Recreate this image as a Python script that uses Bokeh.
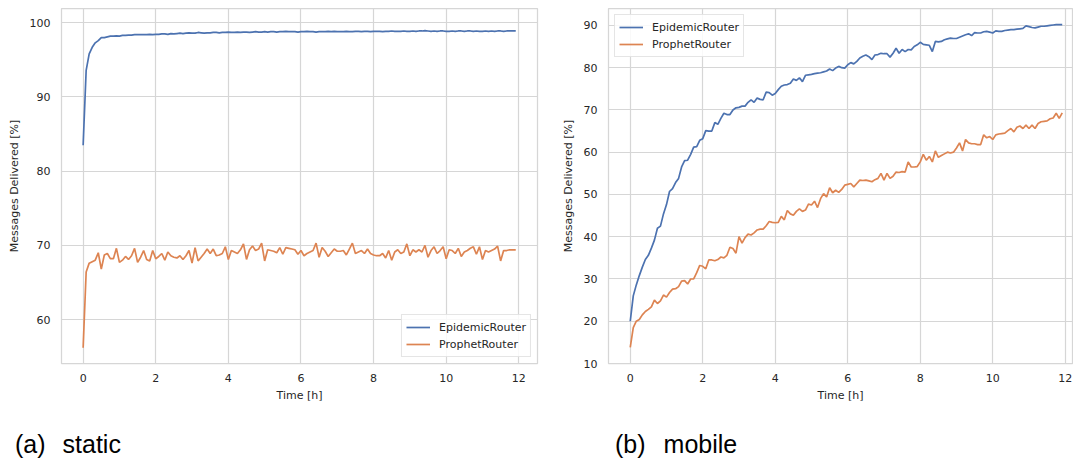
from bokeh.plotting import figure
from bokeh.layouts import row, column
from bokeh.models import FixedTicker, Range1d, Legend, LegendItem, Div
from bokeh.embed import file_html
from bokeh.resources import INLINE

# time axis: samples every 5 minutes, in hours
time_h = [i / 12 for i in range(144)]

static_epidemic = [
    83.5, 93.6, 95.8, 96.7, 97.3, 97.6, 98.0, 98.0, 98.1, 98.2, 98.2, 98.25, 98.2, 98.3, 98.3, 98.35,
    98.35, 98.4, 98.4, 98.4, 98.4, 98.4, 98.45, 98.4, 98.45, 98.45, 98.5, 98.5, 98.45, 98.55, 98.5, 98.55,
    98.6, 98.55, 98.6, 98.65, 98.6, 98.6, 98.7, 98.65, 98.6, 98.65, 98.65, 98.7, 98.7, 98.65, 98.7, 98.7,
    98.75, 98.7, 98.7, 98.75, 98.7, 98.75, 98.75, 98.7, 98.75, 98.8, 98.75, 98.75, 98.8, 98.75, 98.8, 98.8,
    98.75, 98.8, 98.8, 98.85, 98.8, 98.8, 98.8, 98.75, 98.8, 98.8, 98.85, 98.8, 98.8, 98.75, 98.8, 98.8,
    98.8, 98.85, 98.8, 98.85, 98.8, 98.8, 98.8, 98.85, 98.8, 98.8, 98.85, 98.85, 98.8, 98.85, 98.85, 98.8,
    98.85, 98.85, 98.85, 98.8, 98.85, 98.85, 98.9, 98.85, 98.85, 98.85, 98.9, 98.85, 98.85, 98.9, 98.85, 98.9,
    98.9, 98.95, 98.9, 98.85, 98.9, 98.85, 98.9, 98.9, 98.85, 98.85, 98.9, 98.85, 98.9, 98.9, 98.85, 98.9,
    98.9, 98.85, 98.9, 98.85, 98.85, 98.9, 98.85, 98.9, 98.85, 98.9, 98.9, 98.85, 98.9, 98.9, 98.9, 98.9,
]

static_prophet = [
    56.2, 66.4, 67.6, 67.8, 68.0, 69.0, 66.8, 68.7, 68.9, 68.2, 68.2, 69.6, 67.7, 68.0, 68.5, 68.1,
    68.6, 69.6, 67.7, 68.4, 69.3, 68.1, 67.9, 69.3, 68.2, 68.5, 68.9, 68.0, 69.1, 68.6, 68.4, 68.3,
    68.6, 68.1, 68.6, 69.3, 67.6, 69.7, 67.9, 68.4, 68.9, 69.5, 68.9, 69.5, 68.6, 68.7, 68.9, 69.8,
    68.1, 69.3, 69.1, 68.9, 69.4, 70.2, 68.1, 69.4, 69.9, 69.3, 69.5, 70.3, 67.9, 69.4, 69.3, 69.2,
    69.0, 69.7, 68.8, 69.7, 69.6, 69.5, 69.4, 68.8, 69.3, 68.6, 68.9, 69.1, 69.3, 70.3, 68.4, 69.7,
    69.2, 68.5, 69.0, 69.5, 69.2, 69.2, 69.3, 68.7, 69.5, 70.3, 68.9, 69.1, 69.3, 68.9, 69.5, 68.9,
    68.7, 68.6, 68.6, 68.9, 68.3, 69.3, 68.0, 69.1, 69.4, 68.9, 69.1, 70.2, 68.6, 69.4, 69.1, 69.4,
    69.1, 70.0, 68.4, 69.3, 69.8, 68.9, 69.3, 69.8, 68.2, 69.4, 69.3, 68.9, 69.6, 68.5, 69.1, 69.3,
    69.6, 69.8, 68.8, 69.8, 68.1, 69.3, 69.1, 69.3, 69.5, 69.9, 67.9, 69.3, 69.3, 69.4, 69.4, 69.4,
]

mobile_epidemic = [
    20.0, 26.0, 28.6, 30.8, 32.8, 34.6, 35.6, 37.3, 39.2, 42.0, 42.5, 45.4, 47.6, 50.7, 51.4, 52.8,
    53.8, 56.5, 58.0, 58.1, 59.5, 61.2, 61.3, 62.8, 63.2, 65.1, 65.0, 65.0, 67.0, 66.6, 68.0, 69.2,
    68.9, 68.9, 70.0, 70.5, 70.6, 70.9, 70.9, 71.8, 72.4, 71.8, 72.8, 72.5, 72.4, 74.2, 74.1, 73.5,
    73.9, 74.8, 75.6, 75.9, 76.0, 76.3, 77.3, 77.0, 77.6, 76.7, 78.2, 78.3, 78.4, 78.6, 78.7, 78.8,
    79.0, 79.2, 79.7, 79.3, 79.9, 80.3, 80.0, 79.9, 80.7, 81.2, 80.9, 81.5, 82.3, 82.7, 83.0, 82.6,
    81.9, 83.0, 83.1, 83.4, 83.3, 83.3, 82.5, 83.4, 84.6, 83.4, 84.3, 83.8, 84.3, 84.2, 85.0, 85.4,
    86.0, 85.5, 85.4, 85.3, 83.8, 86.2, 86.1, 86.2, 86.6, 86.8, 87.0, 86.9, 86.9, 87.2, 87.5, 87.8,
    88.0, 87.6, 88.3, 88.2, 88.2, 88.5, 88.6, 88.4, 88.2, 88.7, 88.6, 88.6, 88.8, 88.9, 89.0, 89.0,
    89.1, 89.2, 89.3, 89.9, 89.7, 89.5, 89.4, 89.6, 89.8, 89.8, 89.9, 90.0, 90.1, 90.2, 90.2, 90.2,
]

mobile_prophet = [
    13.8, 18.5, 20.0, 20.4, 21.5, 22.3, 22.8, 23.4, 25.0, 24.2, 24.8, 26.2, 25.7, 26.8, 27.6, 27.7,
    28.2, 29.5, 29.6, 28.8, 30.0, 30.0, 31.5, 33.2, 33.0, 32.4, 34.5, 34.5, 34.3, 34.6, 35.2, 35.0,
    35.6, 37.5, 37.2, 36.1, 40.0, 38.5, 39.8, 40.6, 40.4, 40.9, 41.6, 41.8, 41.8, 42.6, 43.6, 43.4,
    43.3, 43.4, 44.8, 44.0, 46.2, 45.4, 45.1, 46.0, 46.6, 46.0, 46.3, 47.7, 47.5, 48.4, 46.9, 49.0,
    50.2, 49.4, 51.6, 50.4, 51.0, 50.5, 51.2, 52.2, 52.4, 52.6, 51.8, 52.6, 53.4, 53.3, 53.4, 53.2,
    53.0, 53.5, 53.8, 55.0, 53.4, 55.0, 53.8, 54.3, 55.3, 55.2, 55.4, 55.3, 57.7, 56.5, 56.5, 56.6,
    57.7, 59.5, 58.1, 59.0, 57.7, 60.3, 58.8, 59.2, 59.6, 60.0, 59.8, 60.0, 61.0, 62.2, 60.3, 63.0,
    62.2, 62.0, 62.0, 61.8, 61.8, 64.1, 63.4, 63.7, 63.0, 64.1, 64.3, 64.4, 64.5, 65.1, 65.6, 64.8,
    65.9, 66.2, 65.6, 66.4, 65.6, 66.4, 65.6, 66.8, 67.2, 67.3, 67.4, 67.9, 68.1, 69.2, 68.0, 69.3,
]

series_names = ["EpidemicRouter", "ProphetRouter"]
x_ticks = [0, 2, 4, 6, 8, 10, 12]
static_y_ticks = [60, 70, 80, 90, 100]
mobile_y_ticks = [10, 20, 30, 40, 50, 60, 70, 80, 90]
caption_tags = ["(a)", "(b)"]
caption_words = ["static", "mobile"]

BLUE = "#4C72B0"
ORANGE = "#DD8452"
GRID = "#d6d6d6"
TXT = "#262626"
FONT = "DejaVu Sans"


def make_fig(width, height, mb_left, mb_right, mb_top, mb_bottom, xr, yr, yticks,
             blue, orange, legend_loc):
    p = figure(width=width, height=height, output_backend="svg", toolbar_location=None,
               title=None,
               x_range=Range1d(*xr), y_range=Range1d(*yr),
               min_border_left=mb_left, min_border_right=mb_right,
               min_border_top=mb_top, min_border_bottom=mb_bottom)
    p.background_fill_color = "white"
    p.border_fill_color = "white"
    p.outline_line_color = GRID
    p.outline_line_width = 1.25

    for ax in (p.xaxis[0], p.yaxis[0]):
        ax.axis_line_color = None
        ax.major_tick_line_color = None
        ax.minor_tick_line_color = None
        ax.major_tick_out = 0
        ax.major_tick_in = 0
        ax.major_label_text_font = FONT
        ax.major_label_text_font_size = "11px"
        ax.major_label_text_color = TXT
        ax.axis_label_text_font = FONT
        ax.axis_label_text_font_size = "11px"
        ax.axis_label_text_font_style = "normal"
        ax.axis_label_text_color = TXT

    p.xaxis.ticker = FixedTicker(ticks=x_ticks)
    p.yaxis.ticker = FixedTicker(ticks=yticks)
    p.xaxis.axis_label = "Time [h]"
    p.yaxis.axis_label = "Messages Delivered [%]"
    p.xaxis.major_label_standoff = 10
    p.xaxis.axis_label_standoff = 4
    p.yaxis.major_label_standoff = 11
    p.yaxis.axis_label_standoff = 6

    p.xgrid.grid_line_color = GRID
    p.ygrid.grid_line_color = GRID
    p.xgrid.grid_line_width = 1.2
    p.ygrid.grid_line_width = 1.2

    r1 = p.line(time_h, blue, line_color=BLUE, line_width=1.7)
    r2 = p.line(time_h, orange, line_color=ORANGE, line_width=1.7)

    legend = Legend(items=[LegendItem(label=series_names[0], renderers=[r1]),
                           LegendItem(label=series_names[1], renderers=[r2])],
                    location=legend_loc)
    legend.label_text_font = FONT
    legend.label_text_font_size = "11px"
    legend.label_text_color = TXT
    legend.glyph_width = 24
    legend.glyph_height = 16
    legend.label_height = 16
    legend.label_standoff = 9
    legend.spacing = 1
    legend.padding = 4
    legend.margin = 6
    legend.border_line_color = "#cccccc"
    legend.border_line_width = 1
    legend.background_fill_color = "white"
    legend.background_fill_alpha = 0.85
    p.add_layout(legend)
    return p


def make_caption(width, pad_left, gap, tag, word):
    html = ('<div style="font-family:\'Liberation Sans\';font-size:25px;line-height:28px;'
            'color:black;white-space:nowrap;padding-left:%dpx;margin:0">%s'
            '<span style="margin-left:%dpx">%s</span></div>' % (pad_left, tag, gap, word))
    return Div(text=html, width=width, height=28, margin=0)


# both plots share the same top border in a row; the static plot's range is
# widened at the top so its ticks keep the reference positions
p1 = make_fig(547, 430, 61, 10, 8, 67, (-0.596, 12.516), (54.07, 101.93), static_y_ticks,
              static_epidemic, static_prophet, "bottom_right")
p2 = make_fig(526, 430, 61, 1, 8, 67, (-0.6, 12.2), (10.0, 94.0), mobile_y_ticks,
              mobile_epidemic, mobile_prophet, "top_left")

c1 = make_caption(547, 15, 17, caption_tags[0], caption_words[0])
c2 = make_caption(526, 68, 18, caption_tags[1], caption_words[1])

layout = column(row(p1, p2), row(c1, c2))
open("out.html", "w").write(file_html(layout, INLINE))
